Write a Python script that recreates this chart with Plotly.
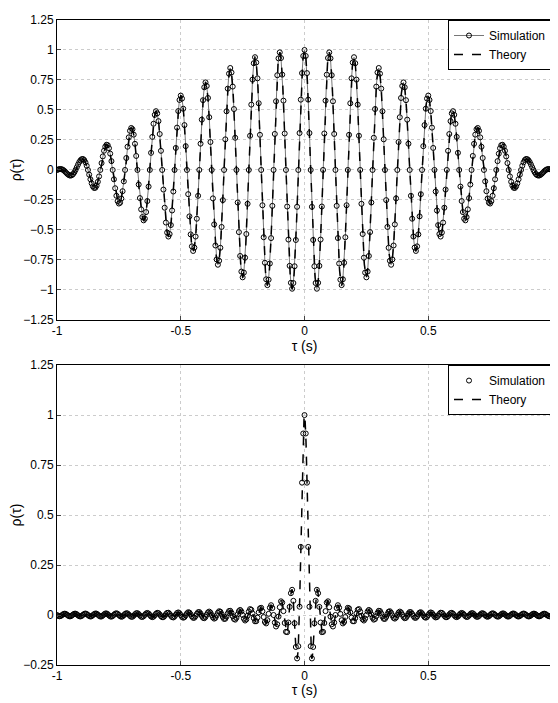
import numpy as np
import plotly.graph_objects as go
from plotly.subplots import make_subplots

# top panel: peak amplitudes of the modulated cosine
peak_tau = [0.0, 0.1, 0.2, 0.3, 0.4, 0.5, 0.6, 0.7, 0.8, 0.9, 1.0]
peak_amp = [1.0, 0.98, 0.94, 0.85, 0.73, 0.62, 0.49, 0.35, 0.21, 0.09, 0.0]
carrier_hz = 10.0
# bottom panel: sinc with mainlobe width
sinc_bw = 48.0

tau_sim1 = np.arange(-1, 1.0, 0.005)
tau_th = np.arange(-1, 1.0, 0.001)
tau_sim2 = np.arange(-1, 1.0, 0.005)

def rho1(t):
    return np.interp(np.abs(t), peak_tau, peak_amp) * np.cos(2 * np.pi * carrier_hz * t)

def rho2(t):
    return np.sinc(sinc_bw * t)

fig = make_subplots(rows=2, cols=1, vertical_spacing=0.07)
mk = dict(symbol="circle-open", size=5, color="black", line=dict(width=1))
fig.add_trace(go.Scatter(x=tau_sim1, y=rho1(tau_sim1), mode="lines+markers", name="Simulation",
                         marker=mk, line=dict(color="#777", width=1), legend="legend"), 1, 1)
fig.add_trace(go.Scatter(x=tau_th, y=rho1(tau_th), mode="lines", name="Theory",
                         line=dict(color="black", width=1.5, dash="dash"), legend="legend"), 1, 1)
fig.add_trace(go.Scatter(x=tau_sim2, y=rho2(tau_sim2), mode="markers", name="Simulation",
                         marker=mk, legend="legend2"), 2, 1)
fig.add_trace(go.Scatter(x=tau_th, y=rho2(tau_th), mode="lines", name="Theory",
                         line=dict(color="black", width=1.5, dash="dash"), legend="legend2"), 2, 1)

ax = dict(showline=True, linecolor="black", mirror=True, ticks="inside", ticklen=4,
          showgrid=True, gridcolor="#ccc", griddash="dot", zeroline=False)
fig.update_xaxes(**ax, range=[-1, 1], tickvals=[-1, -0.5, 0, 0.5], ticktext=["-1", "-0.5", "0", "0.5"],
                 title=dict(text="τ (s)", standoff=2))
fig.update_yaxes(**ax, title=dict(text="ρ(τ)", standoff=2))
fig.update_yaxes(range=[-1.25, 1.25], dtick=0.25, tickformat="~g", row=1, col=1)
fig.update_yaxes(range=[-0.25, 1.25], dtick=0.25, tickformat="~g", row=2, col=1)

lg = dict(xanchor="right", yanchor="top", bgcolor="white", bordercolor="black", borderwidth=1,
          font=dict(size=12), tracegroupgap=0, itemwidth=30)
fig.update_layout(
    width=548, height=690, template="simple_white",
    margin=dict(l=45, r=3, t=12, b=30),
    font=dict(family="Liberation Sans", size=12, color="black"),
    legend=dict(**lg, x=1, y=1),
    legend2=dict(**lg, x=1, y=0.465),
)
fig.write_html("out.html")
